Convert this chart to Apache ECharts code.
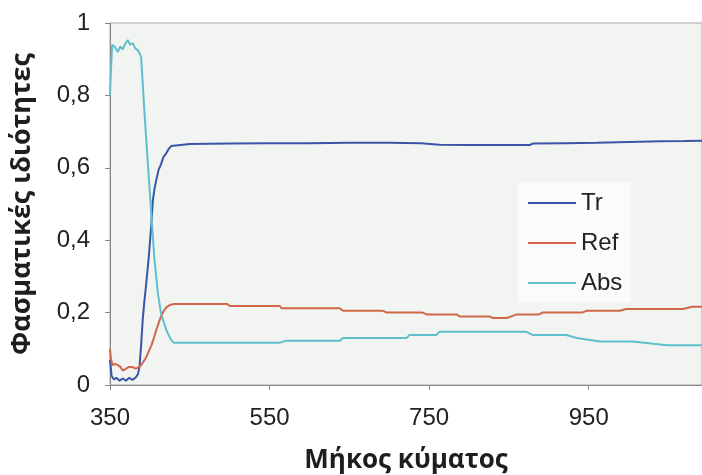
<!DOCTYPE html>
<html>
<head>
<meta charset="utf-8">
<script src="https://cdn.jsdelivr.net/npm/echarts@6/dist/echarts.min.js"></script>
<style>html,body{margin:0;padding:0;background:#fff;}#c{width:702px;height:475px;}</style>
</head>
<body>
<div id="c"></div>
<script>
// Wavelength tick labels
const xTicks = [350, 550, 750, 950];

// Tr (transmittance)
const trWl  = [350, 352, 355, 358, 362, 366, 370, 374, 378, 382, 385, 387, 389, 391, 393, 395.4, 398.6, 401.7, 403.7, 406, 408, 411, 414, 417, 420.5, 423.5, 426.7, 429, 450, 500, 550, 600, 650, 700, 740, 763, 800, 840, 876, 880, 920, 960, 1000, 1040, 1070, 1092];
const trVal = [0.07, 0.025, 0.015, 0.02, 0.012, 0.018, 0.012, 0.02, 0.014, 0.02, 0.03, 0.05, 0.11, 0.18, 0.23, 0.28, 0.354, 0.44, 0.51, 0.545, 0.566, 0.595, 0.61, 0.63, 0.64, 0.652, 0.66, 0.665, 0.666, 0.667, 0.668, 0.668, 0.669, 0.669, 0.668, 0.664, 0.663, 0.663, 0.663, 0.667, 0.668, 0.669, 0.671, 0.673, 0.674, 0.675];

// Ref (reflectance)
const refWl  = [350, 351, 353, 356, 360, 363, 366, 368, 370, 374, 378, 382, 385, 389, 392, 395, 398, 402, 405, 408, 412, 415, 418, 421, 425, 430, 497, 500, 563, 565, 588, 638, 642, 692, 697, 742, 747, 785, 788, 826, 830, 847, 860, 888, 892, 942, 947, 989, 997, 1068, 1080, 1092];
const refVal = [0.1, 0.075, 0.055, 0.058, 0.055, 0.05, 0.04, 0.036, 0.045, 0.05, 0.05, 0.045, 0.048, 0.055, 0.065, 0.075, 0.09, 0.11, 0.13, 0.152, 0.178, 0.195, 0.207, 0.215, 0.221, 0.224, 0.224, 0.218, 0.218, 0.212, 0.212, 0.212, 0.205, 0.205, 0.2, 0.2, 0.195, 0.195, 0.189, 0.189, 0.185, 0.185, 0.195, 0.195, 0.2, 0.2, 0.205, 0.205, 0.21, 0.21, 0.216, 0.216];

// Abs (absorbance)
const absWl  = [350, 351, 352.7, 355.6, 357.7, 359.8, 362.8, 366, 369.4, 372.3, 375.3, 378.6, 381.6, 384.9, 387, 389, 393, 397.4, 401.7, 405.8, 410, 414, 420.5, 426.7, 430, 563, 570, 588, 638, 642, 722, 725, 759, 763, 872, 880, 922, 935, 964, 1005, 1048, 1092];
const absVal = [0.8, 0.86, 0.94, 0.935, 0.94, 0.92, 0.935, 0.927, 0.944, 0.953, 0.94, 0.944, 0.93, 0.925, 0.92, 0.907, 0.76, 0.613, 0.474, 0.345, 0.253, 0.198, 0.152, 0.124, 0.117, 0.117, 0.122, 0.122, 0.122, 0.13, 0.13, 0.138, 0.138, 0.147, 0.147, 0.138, 0.138, 0.13, 0.12, 0.12, 0.11, 0.11];

const seriesNames = ['Tr', 'Ref', 'Abs'];
const seriesColors = ['#3b55a6', '#d0674a', '#5fbfcc'];

function zip(a, b) { return a.map((v, i) => [v, b[i]]); }

const chart = echarts.init(document.getElementById('c'), null, {renderer: 'canvas'});
const font = '"Liberation Sans", Arial, sans-serif';
const titleFont = '"Open Sans", "Noto Sans", sans-serif';
chart.setOption({
  animation: false,
  backgroundColor: '#ffffff',
  textStyle: {fontFamily: font},
  grid: {
    left: 110, right: 0, top: 23, bottom: 90,
    outerBoundsMode: 'none', containLabel: false,
    show: true, backgroundColor: '#f2f4f2', borderColor: '#a8a8a8', borderWidth: 1
  },
  legend: {
    orient: 'vertical',
    left: 518, top: 182,
    padding: [9, 8, 7, 10],
    itemGap: 16,
    itemWidth: 48, itemHeight: 2,
    icon: 'rect',
    backgroundColor: '#fafbfa',
    textStyle: {fontSize: 24, color: '#222', fontFamily: font},
    data: seriesNames
  },
  xAxis: {
    type: 'value', min: 350, max: 1092,
    name: 'Μήκος κύματος', nameLocation: 'middle', nameGap: 63,
    nameTextStyle: {fontSize: 26, fontWeight: 'bold', color: '#1e1e1e', fontFamily: titleFont},
    axisLine: {show: true, lineStyle: {color: '#888', width: 1}},
    axisTick: {show: true, length: 5, lineStyle: {color: '#888'}, customValues: xTicks},
    axisLabel: {fontSize: 24, color: '#222', margin: 21, customValues: xTicks},
    splitLine: {show: false}
  },
  yAxis: {
    type: 'value', min: 0, max: 1, interval: 0.2,
    name: 'Φασματικές ιδιότητες', nameLocation: 'middle', nameGap: 74,
    nameTextStyle: {fontSize: 27, fontWeight: 'bold', color: '#1e1e1e', fontFamily: titleFont},
    axisLine: {show: true, lineStyle: {color: '#888', width: 1}},
    axisTick: {show: true, length: 5, lineStyle: {color: '#888'}},
    axisLabel: {fontSize: 24, color: '#222', margin: 20,
      formatter: v => (v === 0 ? '0' : v === 1 ? '1' : v.toFixed(1).replace('.', ','))},
    splitLine: {show: false}
  },
  series: [
    {name: seriesNames[0], type: 'line', showSymbol: false, data: zip(trWl, trVal), color: seriesColors[0], lineStyle: {width: 2}},
    {name: seriesNames[1], type: 'line', showSymbol: false, data: zip(refWl, refVal), color: seriesColors[1], lineStyle: {width: 2}},
    {name: seriesNames[2], type: 'line', showSymbol: false, data: zip(absWl, absVal), color: seriesColors[2], lineStyle: {width: 2}}
  ]
});
</script>
</body>
</html>
